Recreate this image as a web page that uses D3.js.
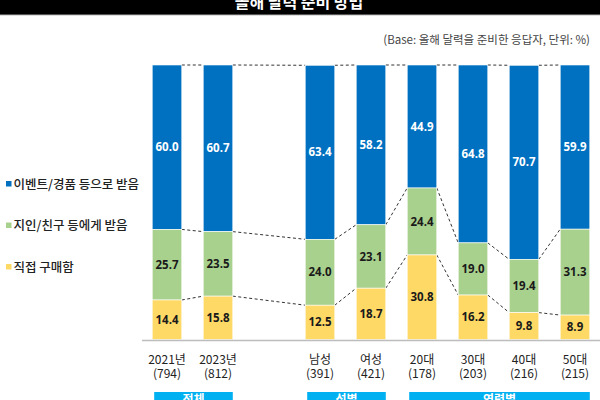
<!DOCTYPE html>
<html>
<head>
<meta charset="utf-8">
<script src="https://cdn.jsdelivr.net/npm/d3@7"></script>
<style>
  body { margin: 0; background: #fff; }
  svg { display: block; font-family: "Noto Sans CJK KR", "Noto Sans", sans-serif; }
</style>
</head>
<body>
<svg id="chart" width="600" height="400"></svg>
<script>
// chart data
var categories = ["2021년", "2023년", "", "남성", "여성", "20대", "30대", "40대", "50대"];
var sampleSizes = ["(794)", "(812)", "", "(391)", "(421)", "(178)", "(203)", "(216)", "(215)"];
var eventValues = [60.0, 60.7, null, 63.4, 58.2, 44.9, 64.8, 70.7, 59.9];
var friendValues = [25.7, 23.5, null, 24.0, 23.1, 24.4, 19.0, 19.4, 31.3];
var directValues = [14.4, 15.8, null, 12.5, 18.7, 30.8, 16.2, 9.8, 8.9];
var seriesNames = ["이벤트/경품 등으로 받음", "지인/친구 등에게 받음", "직접 구매함"];
var groupNames = ["전체", "성별", "연령별"];
var groupFirst = [0, 3, 5];
var groupLast = [1, 4, 8];

var svg = d3.select("#chart");
var colors = ["#0070c0", "#a9d18e", "#ffd966"];
var textColors = ["#ffffff", "#1a1a1a", "#1a1a1a"];

// header bar
svg.append("rect").attr("x", 0).attr("y", 0).attr("width", 600).attr("height", 14).attr("fill", "#000");
svg.append("rect").attr("x", 0).attr("y", 14).attr("width", 600).attr("height", 1.2).attr("fill", "#555");
svg.append("text")
  .attr("x", 299).attr("y", 8)
  .attr("text-anchor", "middle")
  .attr("fill", "#fff")
  .attr("font-size", 16).attr("font-weight", "bold")
  .text("올해 달력 준비 방법");

svg.append("text")
  .attr("x", 590).attr("y", 43.5)
  .attr("text-anchor", "end")
  .attr("fill", "#444")
  .attr("font-size", 11.5)
  .text("(Base: 올해 달력을 준비한 응답자, 단위: %)");

var idx = d3.range(categories.length);
var x = d3.scaleBand()
  .domain(idx)
  .range([141.5, 600.5])
  .paddingInner(0.42)
  .paddingOuter(0.21);

var y = d3.scaleLinear().domain([0, 100]).range([339.5, 65]);

// stacked data: bottom yellow, middle green, top blue
var stacks = idx.filter(function(i) { return eventValues[i] !== null; }).map(function(i) {
  var d = directValues[i], f = friendValues[i], e = eventValues[i];
  return {
    i: i,
    segs: [
      {k: 0, v: e, y0: d + f, y1: Math.min(100, d + f + e)},
      {k: 1, v: f, y0: d, y1: d + f},
      {k: 2, v: directValues[i], y0: 0, y1: d}
    ]
  };
});

// dashed connectors between neighbouring bars
var levels = [function(s) { return s.segs[0].y1; }, function(s) { return s.segs[0].y0; }, function(s) { return s.segs[1].y0; }];
var conn = svg.append("g")
  .attr("stroke", "#333")
  .attr("stroke-width", 1)
  .attr("stroke-dasharray", "3,2.5")
  .attr("fill", "none");
for (var j = 0; j < stacks.length - 1; j++) {
  var a = stacks[j], b = stacks[j + 1];
  levels.forEach(function(lv) {
    conn.append("line")
      .attr("x1", x(a.i) + x.bandwidth())
      .attr("y1", y(lv(a)))
      .attr("x2", x(b.i))
      .attr("y2", y(lv(b)));
  });
}

var barG = svg.append("g").selectAll("g")
  .data(stacks)
  .enter().append("g");

barG.selectAll("rect")
  .data(function(s) { return s.segs.map(function(g) { g.i = s.i; return g; }); })
  .enter().append("rect")
  .attr("x", function(g) { return x(g.i); })
  .attr("y", function(g) { return y(g.y1); })
  .attr("width", x.bandwidth())
  .attr("height", function(g) { return y(g.y0) - y(g.y1); })
  .attr("fill", function(g) { return colors[g.k]; })
  .attr("stroke", "#fff")
  .attr("stroke-width", 0.6);

barG.selectAll("text")
  .data(function(s) { return s.segs; })
  .enter().append("text")
  .attr("x", function(g) { return x(g.i) + x.bandwidth() / 2; })
  .attr("y", function(g) { return (y(g.y0) + y(g.y1)) / 2; })
  .attr("dy", "0.36em")
  .attr("text-anchor", "middle")
  .attr("fill", function(g) { return textColors[g.k]; })
  .attr("font-family", "'Open Sans', sans-serif")
  .attr("font-size", 11.5)
  .attr("font-weight", "bold")
  .text(function(g) { return g.v.toFixed(1); });

// baseline
svg.append("line")
  .attr("x1", 142).attr("x2", 600)
  .attr("y1", 340.5).attr("y2", 340.5)
  .attr("stroke", "#bdbdbd").attr("stroke-width", 1.5);

// category labels
var labels = svg.append("g")
  .attr("text-anchor", "middle")
  .attr("fill", "#222")
  .attr("font-size", 12);
idx.forEach(function(i) {
  if (!categories[i]) return;
  var cx = x(i) + x.bandwidth() / 2;
  labels.append("text").attr("x", cx).attr("y", 363.5).text(categories[i]);
  labels.append("text").attr("x", cx).attr("y", 378).text(sampleSizes[i]);
});

// group boxes at the bottom
groupNames.forEach(function(name, gi) {
  var x0 = x(groupFirst[gi]) + 2, x1 = x(groupLast[gi]) + x.bandwidth();
  svg.append("rect")
    .attr("x", x0).attr("y", 392)
    .attr("width", x1 - x0).attr("height", 16)
    .attr("fill", "#00b0f0");
  svg.append("text")
    .attr("x", (x0 + x1) / 2).attr("y", 404)
    .attr("text-anchor", "middle")
    .attr("fill", "#fff")
    .attr("font-size", 12).attr("font-weight", "bold")
    .text(name);
});

// legend
var legend = svg.append("g").selectAll("g")
  .data(seriesNames)
  .enter().append("g")
  .attr("transform", function(d, i) { return "translate(0," + (184 + i * 41.5) + ")"; });
legend.append("rect")
  .attr("x", 6).attr("y", -3)
  .attr("width", 5.5).attr("height", 5.5)
  .attr("fill", function(d, i) { return colors[i]; });
legend.append("text")
  .attr("x", 13.5).attr("y", 0)
  .attr("dy", "0.36em")
  .attr("fill", "#222")
  .attr("font-size", 12.5)
  .attr("font-weight", 500)
  .text(function(d) { return d; });
</script>
</body>
</html>
